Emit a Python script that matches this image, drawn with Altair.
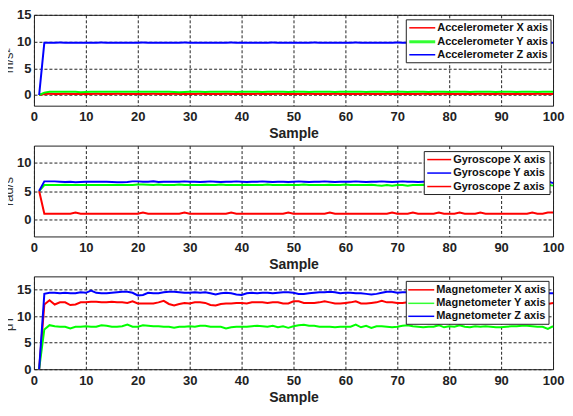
import altair as alt
import pandas as pd

samples = list(range(1, 101))

acc_x = [0.00, 0.20, 0.21, 0.20, 0.20, 0.21, 0.20, 0.20, 0.19, 0.20,
         0.20, 0.21, 0.20, 0.20, 0.20, 0.21, 0.20, 0.20, 0.20, 0.19,
         0.20, 0.20, 0.21, 0.20, 0.20, 0.20, 0.21, 0.20, 0.19, 0.20,
         0.20, 0.21, 0.20, 0.20, 0.20, 0.20, 0.21, 0.20, 0.20, 0.19,
         0.20, 0.20, 0.21, 0.20, 0.20, 0.20, 0.21, 0.20, 0.20, 0.20,
         0.19, 0.20, 0.21, 0.20, 0.20, 0.20, 0.20, 0.21, 0.20, 0.20,
         0.20, 0.19, 0.20, 0.21, 0.20, 0.20, 0.20, 0.21, 0.20, 0.20,
         0.20, 0.20, 0.19, 0.20, 0.21, 0.20, 0.20, 0.20, 0.21, 0.20,
         0.20, 0.20, 0.20, 0.19, 0.20, 0.21, 0.20, 0.20, 0.20, 0.21,
         0.20, 0.20, 0.20, 0.20, 0.19, 0.20, 0.21, 0.20, 0.20, 0.20]
acc_y = [0.00, 0.45, 0.62, 0.63, 0.62, 0.63, 0.62, 0.60, 0.52, 0.55,
         0.60, 0.62, 0.62, 0.63, 0.62, 0.63, 0.62, 0.62, 0.63, 0.62,
         0.62, 0.63, 0.62, 0.62, 0.63, 0.62, 0.58, 0.52, 0.58, 0.62,
         0.63, 0.62, 0.58, 0.62, 0.63, 0.62, 0.62, 0.63, 0.58, 0.62,
         0.63, 0.62, 0.62, 0.55, 0.60, 0.63, 0.62, 0.62, 0.56, 0.62,
         0.63, 0.62, 0.57, 0.62, 0.63, 0.62, 0.62, 0.58, 0.62, 0.63,
         0.62, 0.62, 0.63, 0.57, 0.62, 0.62, 0.63, 0.58, 0.62, 0.63,
         0.62, 0.58, 0.62, 0.63, 0.62, 0.57, 0.62, 0.63, 0.62, 0.58,
         0.62, 0.63, 0.62, 0.57, 0.62, 0.63, 0.62, 0.62, 0.58, 0.62,
         0.63, 0.62, 0.57, 0.62, 0.63, 0.62, 0.58, 0.62, 0.63, 0.62]
acc_z = [0.00, 9.79, 9.80, 9.80, 9.81, 9.80, 9.80, 9.80, 9.79, 9.80,
         9.80, 9.80, 9.81, 9.80, 9.80, 9.80, 9.79, 9.80, 9.80, 9.80,
         9.81, 9.80, 9.80, 9.80, 9.80, 9.79, 9.80, 9.80, 9.81, 9.80,
         9.80, 9.80, 9.80, 9.79, 9.80, 9.80, 9.80, 9.81, 9.80, 9.80,
         9.80, 9.79, 9.80, 9.80, 9.80, 9.81, 9.80, 9.80, 9.80, 9.80,
         9.79, 9.80, 9.80, 9.81, 9.80, 9.80, 9.80, 9.80, 9.79, 9.80,
         9.80, 9.81, 9.80, 9.80, 9.80, 9.80, 9.79, 9.80, 9.80, 9.81,
         9.80, 9.80, 9.80, 9.80, 9.79, 9.80, 9.80, 9.80, 9.81, 9.80,
         9.80, 9.80, 9.79, 9.80, 9.80, 9.81, 9.80, 9.80, 9.80, 9.80,
         9.79, 9.80, 9.80, 9.80, 9.81, 9.80, 9.80, 9.80, 9.80, 9.80]

gyro_x = [5.00, 1.00, 1.00, 1.00, 1.00, 1.00, 1.00, 1.20, 1.00, 1.00,
          1.00, 1.00, 1.00, 1.00, 1.00, 1.00, 1.00, 1.00, 1.00, 1.00,
          1.20, 1.00, 1.00, 1.00, 1.00, 1.00, 1.00, 1.00, 1.20, 1.00,
          1.00, 1.00, 1.00, 1.00, 1.00, 1.00, 1.00, 1.20, 1.00, 1.00,
          1.00, 1.00, 1.00, 1.00, 1.00, 1.00, 1.00, 1.00, 1.20, 1.00,
          1.00, 1.00, 1.00, 1.00, 1.00, 1.00, 1.20, 1.00, 1.00, 1.00,
          1.00, 1.00, 1.00, 1.00, 1.00, 1.00, 1.00, 1.00, 1.20, 1.00,
          1.00, 1.00, 1.20, 1.00, 1.00, 1.00, 1.00, 1.20, 1.00, 1.00,
          1.00, 1.20, 1.00, 1.00, 1.00, 1.20, 1.00, 1.00, 1.00, 1.00,
          1.00, 1.00, 1.00, 1.00, 1.00, 1.20, 1.00, 1.00, 1.20, 1.20]
gyro_y = [5.00, 6.05, 6.05, 6.05, 6.05, 6.10, 6.05, 6.05, 6.05, 6.05,
          6.05, 6.05, 6.05, 6.05, 6.05, 6.05, 6.05, 6.05, 6.05, 6.15,
          6.15, 6.10, 6.05, 6.15, 6.05, 6.05, 6.05, 6.15, 6.05, 6.05,
          6.05, 6.05, 6.10, 6.05, 6.05, 6.15, 6.05, 6.05, 6.05, 6.05,
          6.10, 6.05, 6.05, 6.05, 6.15, 6.05, 6.05, 6.05, 6.10, 6.05,
          6.05, 6.15, 6.05, 6.05, 6.05, 6.05, 6.10, 6.05, 6.05, 6.15,
          6.05, 6.05, 6.05, 6.05, 6.10, 6.00, 5.95, 6.05, 5.95, 6.05,
          6.05, 5.95, 6.05, 6.05, 6.10, 6.05, 6.05, 6.05, 6.05, 6.10,
          6.05, 6.05, 6.05, 6.10, 6.05, 6.05, 6.15, 6.05, 6.05, 6.05,
          6.10, 6.05, 6.05, 6.05, 6.15, 6.05, 6.05, 6.05, 6.10, 5.95]
gyro_z = [5.00, 6.70, 6.70, 6.70, 6.65, 6.60, 6.65, 6.55, 6.60, 6.65,
          6.65, 6.65, 6.65, 6.65, 6.60, 6.55, 6.55, 6.60, 6.70, 6.70,
          6.65, 6.65, 6.70, 6.60, 6.65, 6.65, 6.65, 6.65, 6.70, 6.65,
          6.65, 6.60, 6.65, 6.70, 6.65, 6.60, 6.65, 6.65, 6.70, 6.65,
          6.60, 6.65, 6.65, 6.70, 6.65, 6.60, 6.65, 6.65, 6.60, 6.65,
          6.70, 6.65, 6.60, 6.65, 6.65, 6.70, 6.65, 6.60, 6.65, 6.65,
          6.65, 6.70, 6.65, 6.60, 6.65, 6.65, 6.70, 6.65, 6.60, 6.65,
          6.70, 6.65, 6.65, 6.60, 6.65, 6.70, 6.65, 6.60, 6.65, 6.65,
          6.70, 6.65, 6.60, 6.65, 6.65, 6.70, 6.65, 6.60, 6.65, 6.65,
          6.70, 6.65, 6.60, 6.65, 6.65, 6.70, 6.65, 6.65, 6.70, 6.40]

mag_x = [0.0, 12.2, 13.0, 12.2, 12.6, 12.6, 12.1, 12.2, 12.6, 12.6,
         12.7, 12.7, 12.6, 12.6, 12.7, 12.6, 12.6, 12.5, 12.8, 12.4,
         12.4, 12.4, 12.4, 12.6, 12.9, 12.3, 12.0, 12.3, 12.5, 12.4,
         12.6, 12.6, 12.5, 12.1, 12.0, 12.3, 12.4, 12.4, 12.5, 12.5,
         12.4, 12.6, 12.6, 12.6, 12.5, 12.6, 12.6, 12.4, 12.4, 12.8,
         12.8, 12.5, 12.5, 12.5, 12.6, 12.8, 12.6, 12.4, 12.4, 12.5,
         12.6, 12.8, 12.4, 12.4, 12.5, 12.6, 12.9, 12.6, 12.6, 12.5,
         12.5, 12.6, 12.5, 12.4, 12.5, 12.6, 12.5, 12.5, 12.4, 12.5,
         12.6, 12.5, 12.5, 12.4, 12.5, 12.6, 12.5, 12.5, 12.5, 12.6,
         12.5, 12.4, 12.5, 12.5, 12.6, 12.5, 12.4, 12.5, 12.3, 12.5]
mag_y = [0.0, 7.5, 8.3, 8.1, 8.0, 8.0, 7.7, 8.0, 8.0, 8.1,
         8.0, 8.0, 8.3, 8.2, 8.0, 8.0, 8.1, 8.4, 8.0, 8.0,
         8.3, 8.2, 8.1, 8.1, 8.0, 8.0, 7.8, 8.0, 8.0, 8.1,
         8.0, 8.2, 8.2, 8.0, 8.0, 8.0, 7.7, 7.9, 8.0, 8.0,
         8.0, 8.1, 8.2, 8.1, 8.0, 8.2, 7.9, 8.1, 7.8, 8.1,
         8.3, 8.4, 8.2, 8.2, 8.0, 8.0, 8.0, 7.9, 8.0, 8.0,
         8.0, 8.4, 7.9, 8.2, 7.8, 8.1, 8.1, 8.0, 7.9, 8.0,
         8.2, 8.3, 8.1, 8.0, 7.9, 8.0, 8.0, 8.3, 7.9, 8.1,
         8.0, 8.3, 8.0, 7.9, 8.1, 8.0, 8.1, 8.0, 7.9, 7.9,
         8.0, 8.1, 8.1, 8.2, 8.2, 8.1, 8.0, 8.0, 7.6, 8.1]
mag_z = [0.0, 14.2, 14.4, 14.4, 14.3, 14.4, 14.3, 14.3, 14.5, 14.4,
         14.8, 14.4, 14.3, 14.3, 14.4, 14.5, 14.6, 14.6, 14.4, 13.9,
         14.0, 14.4, 14.3, 14.3, 14.5, 14.6, 14.6, 14.5, 14.4, 14.4,
         14.5, 14.4, 14.5, 14.3, 14.1, 14.3, 14.4, 14.3, 14.1, 14.0,
         14.3, 14.4, 14.3, 14.4, 14.4, 14.3, 14.4, 14.5, 14.5, 14.4,
         14.2, 14.2, 14.3, 14.4, 14.5, 14.5, 14.6, 14.5, 14.3, 14.4,
         14.4, 14.3, 14.3, 14.2, 14.1, 14.2, 14.4, 14.6, 14.6, 14.4,
         14.5, 14.5, 14.4, 14.4, 14.2, 14.3, 14.3, 14.2, 14.2, 14.0,
         14.3, 14.4, 14.3, 14.4, 14.3, 14.4, 14.3, 14.3, 14.4, 14.3,
         14.4, 14.3, 14.3, 14.4, 14.3, 14.4, 14.3, 14.3, 14.3, 14.3]

x_ticks = [0, 10, 20, 30, 40, 50, 60, 70, 80, 90, 100]

FONT = "Liberation Sans"
INK = "#222222"
PLOT_W = 520


def panel(series, names, colors, y_domain, y_ticks, y_title, height,
          leg_labels, leg_colors, leg_widths, box, rows, line_x, text_x):
    rows_df = []
    for name, vals in zip(names, series):
        for s, v in zip(samples, vals):
            rows_df.append({"Sample": s, "value": v, "series": name})
    df = pd.DataFrame(rows_df)

    lines = alt.Chart(df).mark_line(strokeWidth=2).encode(
        x=alt.X("Sample:Q", scale=alt.Scale(domain=[0, 100], nice=False),
                axis=alt.Axis(values=x_ticks, title="Sample", grid=True,
                              gridColor=INK, gridDash=[3, 2], gridWidth=1,
                              domain=False, ticks=False, labelPadding=5,
                              labelFont=FONT, labelFontWeight="bold",
                              labelFontSize=13, labelColor=INK,
                              titleFont=FONT, titleFontWeight="bold",
                              titleFontSize=14, titleColor=INK,
                              titlePadding=3, labelFlush=False)),
        y=alt.Y("value:Q", scale=alt.Scale(domain=y_domain, nice=False, zero=False),
                axis=alt.Axis(values=y_ticks, title=y_title, grid=True,
                              gridColor=INK, gridDash=[3, 2], gridWidth=1,
                              domain=False, ticks=False, labelPadding=3,
                              labelFont=FONT, labelFontWeight="bold",
                              labelFontSize=13, labelColor=INK,
                              titleFont=FONT, titleFontWeight="normal",
                              titleFontSize=13, titleColor="#333333",
                              titleAngle=270, titleX=-21, titleY=height / 2,
                              titleAlign="center", titleBaseline="alphabetic")),
        color=alt.Color("series:N", scale=alt.Scale(domain=names, range=colors),
                        legend=None),
    )

    one = pd.DataFrame({"a": [0]})
    layers = [lines]
    layers.append(alt.Chart(one).mark_rect(fill="white", stroke=INK, strokeWidth=1).encode(
        x=alt.value(box[0]), x2=alt.value(box[1]), y=alt.value(box[2]), y2=alt.value(box[3])))
    for lab, col, w, r in zip(leg_labels, leg_colors, leg_widths, rows):
        layers.append(alt.Chart(one).mark_rule(color=col, strokeWidth=w).encode(
            x=alt.value(line_x[0]), x2=alt.value(line_x[1]), y=alt.value(r)))
        layers.append(alt.Chart(one).mark_text(
            text=lab, align="left", baseline="middle", font=FONT,
            fontWeight="bold", fontSize=11, color="#111111").encode(
            x=alt.value(text_x), y=alt.value(r)))
    return alt.layer(*layers).properties(width=PLOT_W, height=height)


p1 = panel([acc_x, acc_y, acc_z],
           ["Accelerometer X axis", "Accelerometer Y axis", "Accelerometer Z axis"],
           ["#ff0000", "#00ff00", "#0000ff"],
           [-2, 15], [0, 5, 10, 15], "m/s²", 91,
           ["Accelerometer X axis", "Accelerometer Y axis", "Accelerometer Z axis"],
           ["#ff0000", "#33ff33", "#0000ff"], [1.5, 3, 1.5],
           (373, 518, 5, 48), [13, 27, 40], (376, 402), 404)

p2 = panel([gyro_x, gyro_y, gyro_z],
           ["Gyroscope X axis", "Gyroscope Y axis", "Gyroscope Z axis"],
           ["#ff0000", "#0000ff", "#00ff00"],
           [-3, 13], [0, 5, 10], "rad/s", 91,
           ["Gyroscope X axis", "Gyroscope Y axis", "Gyroscope Z axis"],
           ["#ff0000", "#0000ff", "#ff0000"], [1.5, 1.5, 1.5],
           (391, 517, 6, 49), [14, 27.5, 41], (394, 418), 420)

p3 = panel([mag_x, mag_y, mag_z],
           ["Magnetometer X axis", "Magnetometer Y axis", "Magnetometer Z axis"],
           ["#ff0000", "#00ff00", "#0000ff"],
           [0, 17.5], [0, 5, 10, 15], "μT", 93,
           ["Magnetometer X axis", "Magnetometer Y axis", "Magnetometer Z axis"],
           ["#ff0000", "#33ff33", "#0000ff"], [1.5, 1.5, 1.5],
           (373, 516, 5, 48), [13.5, 27, 40], (375, 401), 403)

chart = alt.vconcat(p1, p2, p3, spacing=3).properties(
    padding={"left": -6, "top": -0.5, "right": 0, "bottom": -1}
).configure_view(stroke=INK, strokeWidth=1)

chart.save("out.html", embed_options={"renderer": "svg", "actions": False})
